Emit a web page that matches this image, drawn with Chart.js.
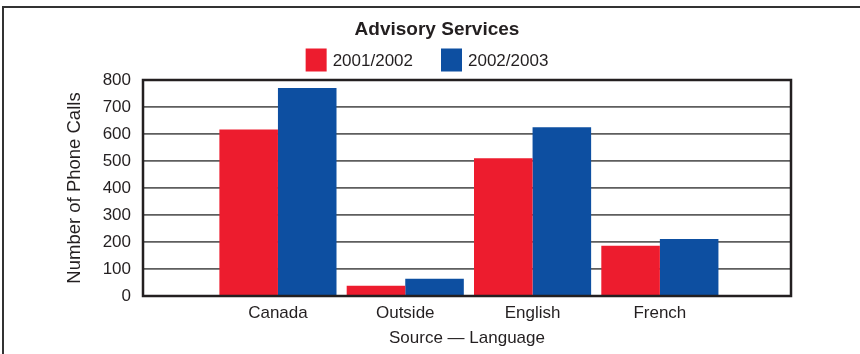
<!DOCTYPE html>
<html>
<head>
<meta charset="utf-8">
<script src="https://cdn.jsdelivr.net/npm/chart.js@4/dist/chart.umd.min.js"></script>
<style>
  html, body { margin: 0; padding: 0; background: #ffffff; }
  #wrap { position: relative; width: 860px; height: 354px; overflow: hidden; }
</style>
</head>
<body>
<div id="wrap"><canvas id="chart" width="860" height="354"></canvas></div>
<script>
// Advisory Services: phone calls by source / language, two fiscal years
const chartTitle = 'Advisory Services';
const categories = ['Canada', 'Outside', 'English', 'French'];
const seriesNames = ['2001/2002', '2002/2003'];
const calls2001 = [617, 38, 510, 186];
const calls2002 = [770, 64, 625, 211];
const yTickValues = [0, 100, 200, 300, 400, 500, 600, 700, 800];
const yAxisTitle = 'Number of Phone Calls';
const xAxisTitle = 'Source \u2014 Language';

const RED = '#ED1C2E';
const BLUE = '#0D4FA1';
const INK = '#231f20';
const FONT = "'Liberation Sans', Arial, Helvetica, sans-serif";

// Title, legend and frames drawn around the chart area
const framePlugin = {
  id: 'frame',
  beforeDraw(chart) {
    const ctx = chart.ctx;
    ctx.save();
    ctx.strokeStyle = '#333333';
    ctx.lineWidth = 2;
    ctx.strokeRect(3, 7, 1000, 500);
    ctx.restore();
  },
  afterDatasetsDraw(chart) {
    const {ctx, chartArea: a} = chart;
    ctx.save();
    ctx.strokeStyle = INK;
    ctx.lineWidth = 2.5;
    ctx.strokeRect(a.left, a.top, a.right - a.left, a.bottom - a.top);
    ctx.restore();
  },
  afterDraw(chart) {
    const ctx = chart.ctx;
    ctx.save();
    ctx.fillStyle = INK;
    ctx.textBaseline = 'middle';
    ctx.textAlign = 'center';
    ctx.font = 'bold 19px ' + FONT;
    ctx.fillText(chartTitle, 437, 30);

    // legend row
    ctx.font = '17px ' + FONT;
    const boxW = 21, boxH = 23, gapText = 6, gapItem = 28;
    const items = chart.data.datasets.map(ds => ({
      text: ds.label, color: ds.backgroundColor, w: ctx.measureText(ds.label).width
    }));
    let total = 0;
    items.forEach((it, i) => { total += boxW + gapText + it.w + (i ? gapItem : 0); });
    let x = 427 - total / 2;
    const cy = 60;
    ctx.textAlign = 'left';
    items.forEach(it => {
      ctx.fillStyle = it.color;
      ctx.fillRect(x, cy - boxH / 2, boxW, boxH);
      ctx.fillStyle = INK;
      ctx.fillText(it.text, x + boxW + gapText, cy + 1);
      x += boxW + gapText + it.w + gapItem;
    });
    ctx.restore();
  }
};

const toPoints = vals => vals.map((v, i) => ({x: i + 1, y: v}));

new Chart(document.getElementById('chart'), {
  type: 'bar',
  data: {
    datasets: [
      {label: seriesNames[0], data: toPoints(calls2001), backgroundColor: RED,
       categoryPercentage: 0.92, barPercentage: 1.0},
      {label: seriesNames[1], data: toPoints(calls2002), backgroundColor: BLUE,
       categoryPercentage: 0.92, barPercentage: 1.0}
    ]
  },
  options: {
    responsive: false,
    animation: false,
    devicePixelRatio: 1,
    layout: {padding: {left: 0, right: 69, top: 80, bottom: 0}},
    plugins: {
      legend: {display: false},
      title: {display: false},
      tooltip: {enabled: false}
    },
    scales: {
      x: {
        type: 'linear',
        offset: false,
        min: -0.06,
        max: 5.03,
        grid: {display: false},
        border: {display: false},
        afterBuildTicks(scale) {
          scale.ticks = categories.map((c, i) => ({value: i + 1}));
        },
        afterFit(scale) { scale.height = 58; },
        ticks: {
          autoSkip: false,
          maxRotation: 0,
          padding: -1,
          color: INK,
          font: {family: FONT, size: 17},
          callback: v => categories[v - 1] ?? ''
        },
        title: {
          display: true,
          text: xAxisTitle,
          color: INK,
          font: {family: FONT, size: 17},
          padding: {top: 0, bottom: 5}
        }
      },
      y: {
        min: 0,
        max: 800,
        afterBuildTicks(scale) {
          scale.ticks = yTickValues.map(v => ({value: v}));
        },
        afterFit(scale) { scale.width = 143; },
        grid: {color: '#5e5e5e', lineWidth: 1.8, drawTicks: false},
        border: {display: false},
        ticks: {
          padding: 12,
          color: INK,
          font: {family: FONT, size: 17}
        },
        title: {
          display: true,
          text: yAxisTitle,
          color: INK,
          font: {family: FONT, size: 18.5},
          padding: {top: 64, bottom: 0}
        }
      }
    }
  },
  plugins: [framePlugin]
});
</script>
</body>
</html>
